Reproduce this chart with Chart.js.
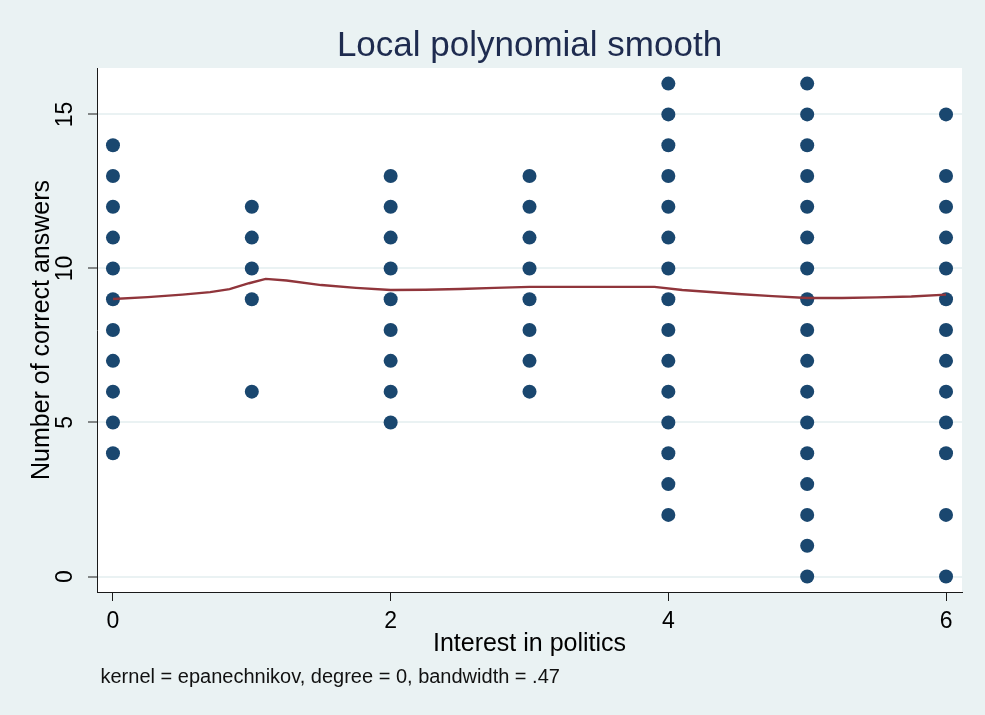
<!DOCTYPE html>
<html>
<head>
<meta charset="utf-8">
<script src="https://cdn.jsdelivr.net/npm/chart.js@4/dist/chart.umd.min.js"></script>
<style>
  html, body { margin: 0; padding: 0; background: #EAF2F3; }
  #wrap { width: 985px; height: 715px; }
</style>
</head>
<body>
<div id="wrap"><canvas id="c" width="985" height="715"></canvas></div>
<script>
// Observed scores (number of correct answers) at each level of interest in politics
const interestLevels = [0, 1, 2, 3, 4, 5, 6];
const scoresAt0 = [4, 5, 6, 7, 8, 9, 10, 11, 12, 13, 14];
const scoresAt1 = [6, 9, 10, 11, 12];
const scoresAt2 = [5, 6, 7, 8, 9, 10, 11, 12, 13];
const scoresAt3 = [6, 7, 8, 9, 10, 11, 12, 13];
const scoresAt4 = [2, 3, 4, 5, 6, 7, 8, 9, 10, 11, 12, 13, 14, 15, 16];
const scoresAt5 = [0, 1, 2, 3, 4, 5, 6, 7, 8, 9, 10, 11, 12, 13, 14, 15, 16];
const scoresAt6 = [0, 2, 4, 5, 6, 7, 8, 9, 10, 11, 12, 13, 15];

// Local polynomial smooth (epanechnikov, degree 0, bw .47) evaluated on its grid
const smoothX = [0.00, 0.25, 0.50, 0.70, 0.84, 0.98, 1.10, 1.25, 1.50, 1.75, 2.00, 2.25, 2.50,
                 2.75, 3.00, 3.50, 3.90, 4.10, 4.50, 4.75, 5.00, 5.25, 5.50, 5.75, 6.00];
const smoothY = [9.01, 9.07, 9.15, 9.23, 9.33, 9.52, 9.66, 9.61, 9.46, 9.37, 9.30, 9.31, 9.33,
                 9.37, 9.40, 9.40, 9.40, 9.30, 9.17, 9.10, 9.04, 9.04, 9.06, 9.09, 9.15];

// Axis ticks and text
const xTickValues = [0, 2, 4, 6];
const yTickValues = [0, 5, 10, 15];
const titleText = 'Local polynomial smooth';
const xTitleText = 'Interest in politics';
const yTitleText = 'Number of correct answers';
const noteText = 'kernel = epanechnikov, degree = 0, bandwidth = .47';

const scoreLists = [scoresAt0, scoresAt1, scoresAt2, scoresAt3, scoresAt4, scoresAt5, scoresAt6];
const scatterPoints = [];
interestLevels.forEach((lvl, i) => {
  scoreLists[i].forEach(s => scatterPoints.push({ x: lvl, y: s }));
});
const smoothPoints = smoothX.map((x, i) => ({ x: x, y: smoothY[i] }));

const FONT = "'Liberation Sans', Arial, Helvetica, sans-serif";
const BG = '#EAF2F3';
const AXIS = '#1a1a1a';

const backdrop = {
  id: 'backdrop',
  beforeDraw(chart) {
    const { ctx, chartArea: a } = chart;
    ctx.save();
    ctx.fillStyle = BG;
    ctx.fillRect(0, 0, chart.width, chart.height);
    ctx.fillStyle = '#ffffff';
    ctx.fillRect(a.left, a.top, a.right - a.left, a.bottom - a.top);
    ctx.restore();
  }
};

// Vertical y tick labels and the note beneath the axis title
const extraText = {
  id: 'extraText',
  afterDraw(chart) {
    const { ctx } = chart;
    const ys = chart.scales.y;
    ctx.save();
    ctx.fillStyle = '#000';
    ctx.font = '23px ' + FONT;
    ctx.textAlign = 'center';
    ctx.textBaseline = 'middle';
    ys.ticks.forEach(t => {
      const py = ys.getPixelForValue(t.value);
      ctx.save();
      ctx.translate(66, py);
      ctx.rotate(-Math.PI / 2);
      ctx.fillText(String(t.value), 0, 0);
      ctx.restore();
    });
    ctx.font = '20px ' + FONT;
    ctx.textAlign = 'left';
    ctx.textBaseline = 'alphabetic';
    ctx.fillStyle = '#111';
    ctx.fillText(noteText, 100.5, 683);
    ctx.restore();
  }
};

new Chart(document.getElementById('c'), {
  type: 'scatter',
  data: {
    datasets: [
      {
        type: 'line',
        data: smoothPoints,
        borderColor: '#90353B',
        borderWidth: 2.4,
        pointRadius: 0,
        tension: 0,
        fill: false,
        order: 0
      },
      {
        data: scatterPoints,
        backgroundColor: '#1A476F',
        borderColor: '#1A476F',
        borderWidth: 0,
        pointRadius: 7,
        order: 1
      }
    ]
  },
  options: {
    responsive: false,
    devicePixelRatio: 1,
    animation: false,
    layout: { padding: { top: 0, right: 23, bottom: 0, left: 0 } },
    plugins: {
      legend: { display: false },
      tooltip: { enabled: false },
      title: {
        display: true,
        fullSize: false,
        text: titleText,
        color: '#1E2B4F',
        font: { family: FONT, size: 35, weight: 'normal', lineHeight: 1.2 },
        padding: { top: 25, bottom: 1 }
      }
    },
    scales: {
      x: {
        type: 'linear',
        min: -0.115,
        max: 6.115,
        afterBuildTicks: s => { s.ticks = xTickValues.map(v => ({ value: v })); },
        afterFit: s => { s.height = 123; },
        ticks: {
          color: '#000',
          font: { family: FONT, size: 23 },
          padding: 7,
          maxRotation: 0,
          callback: v => String(v)
        },
        grid: {
          drawOnChartArea: false,
          drawTicks: true,
          tickLength: 9,
          tickColor: AXIS,
          tickWidth: 1
        },
        border: { display: true, color: AXIS, width: 1 },
        title: {
          display: true,
          text: xTitleText,
          color: '#000',
          font: { family: FONT, size: 25, lineHeight: 1.2 },
          padding: { top: 0, bottom: 56 }
        }
      },
      y: {
        type: 'linear',
        min: -0.503,
        max: 16.506,
        afterBuildTicks: s => { s.ticks = yTickValues.map(v => ({ value: v })); },
        afterFit: s => { s.width = 97; },
        ticks: { display: false },
        grid: {
          drawOnChartArea: true,
          color: BG,
          lineWidth: 2,
          drawTicks: true,
          tickLength: 9,
          tickColor: AXIS,
          tickWidth: 1
        },
        border: { display: true, color: AXIS, width: 1 },
        title: {
          display: true,
          text: yTitleText,
          color: '#000',
          font: { family: FONT, size: 25, lineHeight: 1.2 },
          padding: { top: 27.5, bottom: 0 }
        }
      }
    }
  },
  plugins: [backdrop, extraText]
});
</script>
</body>
</html>
